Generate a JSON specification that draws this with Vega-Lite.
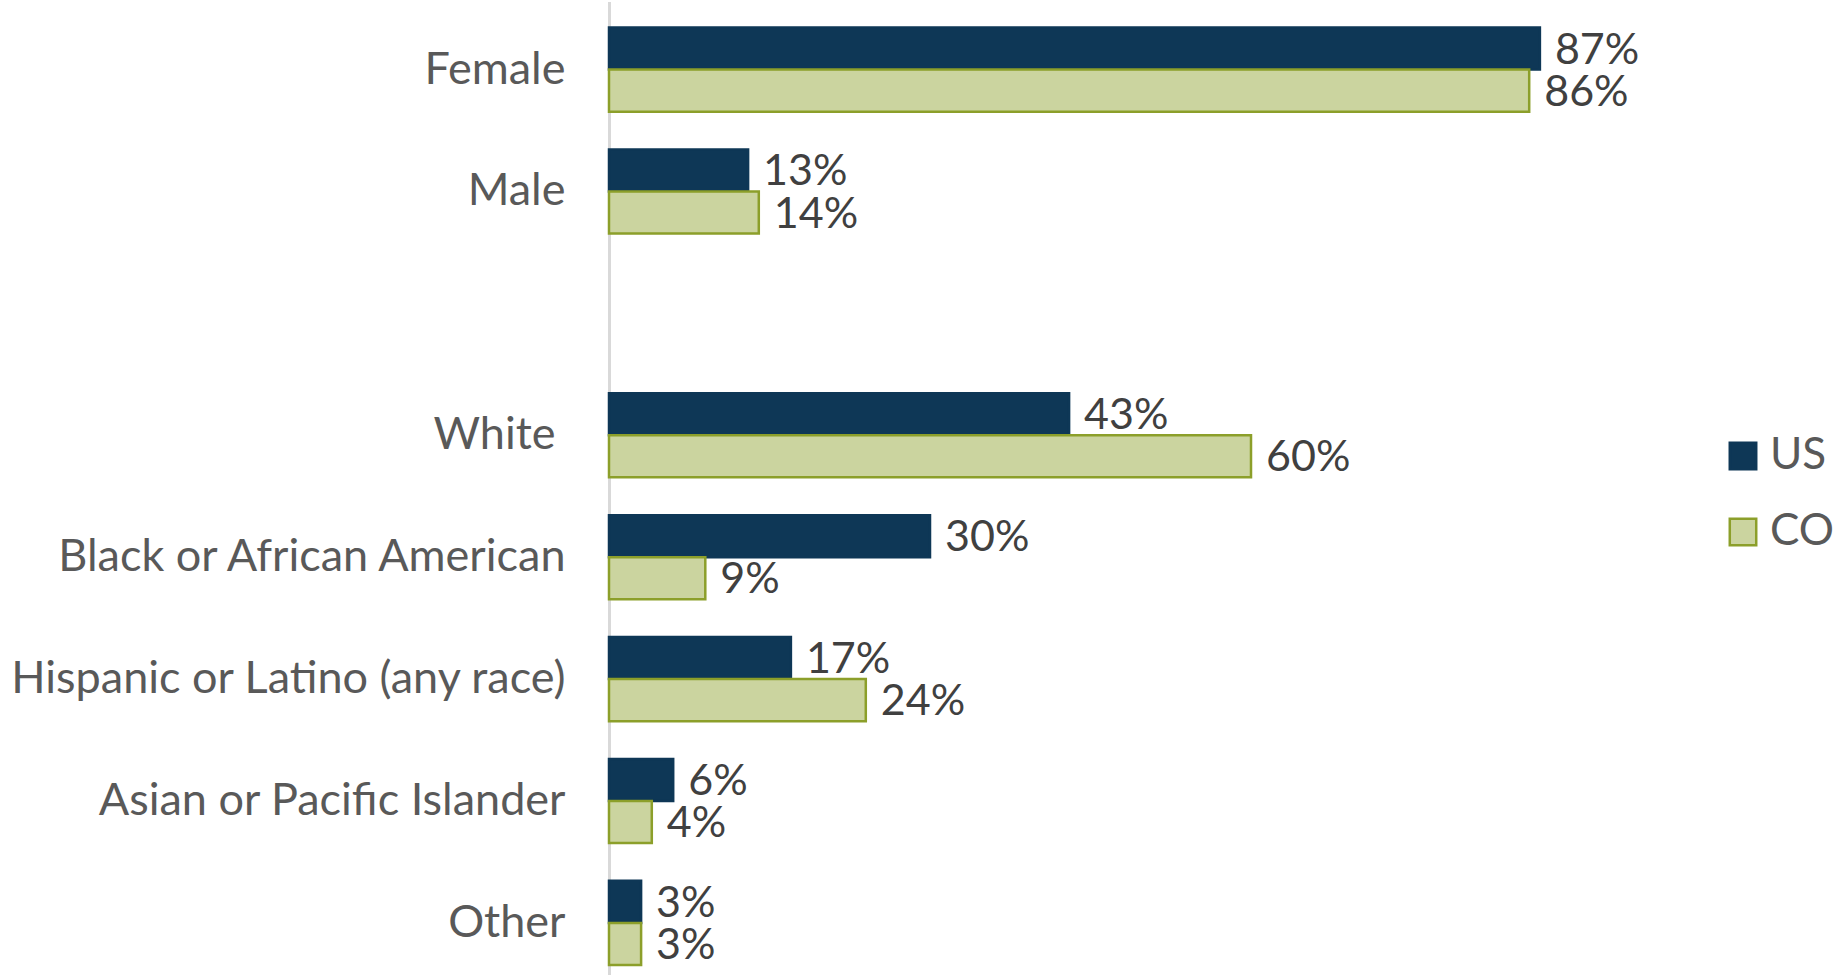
{
  "$schema": "https://vega.github.io/schema/vega-lite/v6.json",
  "width": 1070,
  "height": 975,
  "autosize": {"type": "none"},
  "padding": {"left": 609, "top": 0, "right": 158, "bottom": 0},
  "background": "white",
  "config": {"view": {"stroke": null}, "font": "Lato"},
  "data": {
    "values": [
      {"category": "Female", "series": "US", "value": 0.87},
      {"category": "Female", "series": "CO", "value": 0.86},
      {"category": "Male", "series": "US", "value": 0.13},
      {"category": "Male", "series": "CO", "value": 0.14},
      {"category": "White", "series": "US", "value": 0.43},
      {"category": "White", "series": "CO", "value": 0.60},
      {"category": "Black or African American", "series": "US", "value": 0.30},
      {"category": "Black or African American", "series": "CO", "value": 0.09},
      {"category": "Hispanic or Latino (any race)", "series": "US", "value": 0.17},
      {"category": "Hispanic or Latino (any race)", "series": "CO", "value": 0.24},
      {"category": "Asian or Pacific Islander", "series": "US", "value": 0.06},
      {"category": "Asian or Pacific Islander", "series": "CO", "value": 0.04},
      {"category": "Other", "series": "US", "value": 0.03},
      {"category": "Other", "series": "CO", "value": 0.03}
    ]
  },
  "encoding": {
    "y": {
      "field": "category",
      "type": "nominal",
      "scale": {
        "domain": ["Female", "Male", " ", "White", "Black or African American", "Hispanic or Latino (any race)", "Asian or Pacific Islander", "Other"],
        "range": [1.5, 991],
        "paddingInner": 0.31,
        "paddingOuter": 0.2136
      },
      "axis": {
        "title": null,
        "domainColor": "#d9d9d9",
        "domainWidth": 3,
        "ticks": false,
        "labelFontSize": 45,
        "labelColor": "#595959",
        "labelPadding": {"condition": {"test": "datum.value === 'White'", "value": 54}, "value": 44},
        "labelFont": "Lato",
        "labelLimit": 0
      }
    },
    "yOffset": {
      "field": "series",
      "type": "nominal",
      "scale": {"domain": ["US", "CO"], "paddingInner": 0, "paddingOuter": 0}
    },
    "x": {
      "field": "value",
      "type": "quantitative",
      "scale": {"domain": [0, 1], "nice": false},
      "axis": null
    }
  },
  "layer": [
    {
      "mark": {"type": "bar", "strokeWidth": 2.5},
      "encoding": {
        "fill": {
          "field": "series",
          "type": "nominal",
          "scale": {"domain": ["US", "CO"], "range": ["#0e3756", "#cbd49f"]},
          "legend": {
            "title": null,
            "orient": "none",
            "legendX": 1112,
            "legendY": 434,
            "padding": 0,
            "symbolType": "square",
            "symbolSize": 700,
            "symbolStrokeWidth": 2.5,
            "labelFontSize": 44,
            "labelFont": "Lato",
            "labelColor": "#595959",
            "labelOffset": 5,
            "rowPadding": 32
          }
        },
        "stroke": {
          "field": "series",
          "type": "nominal",
          "scale": {"domain": ["US", "CO"], "range": ["#0e3756", "#8c9f2a"]},
          "legend": {
            "title": null,
            "orient": "none",
            "legendX": 1112,
            "legendY": 434,
            "padding": 0,
            "symbolType": "square",
            "symbolSize": 700,
            "symbolStrokeWidth": 2.5,
            "labelFontSize": 44,
            "labelFont": "Lato",
            "labelColor": "#595959",
            "labelOffset": 5,
            "rowPadding": 32
          }
        }
      }
    },
    {
      "mark": {"type": "text", "align": "left", "baseline": "middle", "dx": 15, "dy": 2, "fontSize": 43, "font": "Lato", "color": "#404040"},
      "encoding": {
        "text": {"field": "value", "type": "quantitative", "format": ".0%"}
      }
    }
  ]
}
